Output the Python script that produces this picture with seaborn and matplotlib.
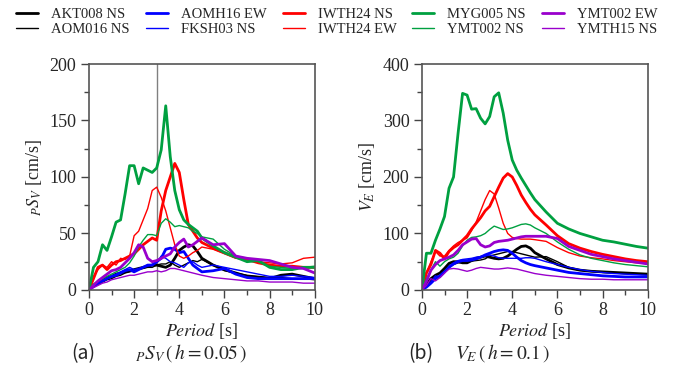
import matplotlib
matplotlib.use("Agg")
import matplotlib.pyplot as plt
import seaborn as sns
import pandas as pd
from matplotlib import font_manager
from matplotlib.ticker import MultipleLocator

# period grid [s]
period = [0.0, 0.2, 0.4, 0.6, 0.8, 1.0, 1.2, 1.4, 1.6, 1.8, 2.0, 2.2, 2.4, 2.6,
          2.8, 3.0, 3.2, 3.4, 3.6, 3.8, 4.0, 4.2, 4.4, 4.6, 4.8, 5.0,
          5.5, 6.0, 6.5, 7.0, 7.5, 8.0, 8.5, 9.0, 9.5, 10.0]

stations = ["AKT008 NS", "AOM016 NS", "AOMH16 EW", "FKSH03 NS", "IWTH24 NS",
            "IWTH24 EW", "MYG005 NS", "YMT002 NS", "YMT002 EW", "YMTH15 NS"]

# pSv (h=0.05) [cm/s]
psv_akt008_ns = [0, 4, 7, 9, 11, 12, 14, 15, 16, 17, 18, 19, 20, 21, 22, 22, 21, 20,
                 22, 28, 35, 38, 40, 39, 34, 28, 22, 18, 15, 12, 11, 10, 13, 14, 12, 10]
psv_aom016_ns = [0, 3, 5, 7, 9, 10, 12, 13, 15, 16, 17, 18, 19, 20, 20, 22, 23, 23,
                 25, 22, 20, 22, 24, 26, 25, 27, 22, 17, 15, 13, 12, 11, 11, 10, 10, 9]
psv_aomh16_ew = [0, 3, 6, 8, 10, 12, 13, 15, 17, 18, 16, 18, 20, 22, 22, 25, 28, 36,
                 37, 36, 33, 34, 28, 22, 19, 16, 17, 19, 14, 11, 10, 10, 10, 10, 10, 10]
psv_fksh03_ns = [0, 3, 6, 8, 10, 12, 14, 16, 18, 20, 18, 19, 20, 21, 22, 24, 30, 28,
                 25, 24, 22, 20, 24, 25, 22, 20, 22, 20, 18, 16, 14, 12, 12, 13, 12, 11]
psv_iwth24_ns = [0, 10, 20, 22, 18, 22, 25, 26, 28, 30, 32, 36, 40, 43, 46, 44, 70, 88,
                 100, 112, 104, 80, 58, 52, 46, 42, 37, 33, 29, 27, 24, 22, 21, 21, 20, 20]
psv_iwth24_ew = [0, 12, 18, 22, 20, 25, 22, 28, 27, 30, 48, 52, 62, 72, 88, 91, 82, 70,
                 55, 40, 30, 28, 30, 33, 35, 38, 36, 32, 28, 27, 25, 24, 23, 24, 28, 29]
psv_myg005_ns = [0, 20, 25, 40, 35, 47, 60, 62, 85, 110, 110, 94, 108, 106, 104, 108, 124, 163,
                 118, 88, 71, 62, 58, 55, 52, 46, 39, 33, 29, 25, 26, 20, 18, 18, 20, 20]
psv_ymt002_ns = [0, 5, 8, 10, 12, 14, 16, 18, 20, 24, 30, 38, 44, 49, 49, 48, 59, 63,
                 60, 56, 57, 56, 55, 52, 50, 47, 45, 36, 30, 28, 25, 21, 20, 19, 20, 21]
psv_ymt002_ew = [0, 4, 8, 11, 14, 17, 18, 20, 24, 28, 33, 40, 38, 28, 25, 26, 28, 30,
                 32, 38, 42, 45, 38, 40, 43, 46, 40, 41, 30, 28, 27, 26, 23, 20, 19, 15]
psv_ymth15_ns = [0, 2, 4, 6, 7, 9, 10, 11, 12, 13, 13, 14, 15, 16, 16, 17, 16, 17,
                 19, 19, 18, 17, 16, 15, 14, 13, 11, 10, 9, 8, 8, 7, 7, 7, 6, 6]

# VE (h=0.1) [cm/s]
ve_akt008_ns = [0, 10, 20, 26, 30, 38, 47, 50, 50, 48, 48, 52, 56, 58, 60, 58, 56, 55,
                56, 60, 66, 72, 77, 78, 74, 66, 55, 45, 39, 35, 33, 32, 31, 30, 29, 28]
ve_aom016_ns = [0, 8, 15, 20, 25, 32, 40, 45, 48, 49, 50, 51, 52, 53, 55, 60, 62, 64,
                66, 68, 68, 66, 64, 62, 60, 58, 59, 50, 40, 35, 33, 31, 30, 29, 28, 28]
ve_aomh16_ew = [0, 5, 12, 20, 25, 32, 40, 46, 50, 52, 52, 53, 55, 58, 62, 65, 68, 70,
                71, 70, 65, 58, 52, 48, 45, 43, 39, 35, 31, 29, 27, 25, 24, 23, 23, 23]
ve_fksh03_ns = [0, 6, 14, 25, 22, 30, 42, 48, 52, 54, 55, 56, 58, 59, 60, 62, 60, 57,
                56, 56, 56, 56, 56, 57, 57, 56, 50, 45, 40, 36, 33, 31, 29, 28, 27, 26]
ve_iwth24_ns = [0, 30, 45, 70, 65, 55, 68, 75, 80, 88, 96, 108, 118, 128, 140, 148, 165, 182,
                198, 206, 200, 185, 168, 155, 143, 133, 115, 96, 82, 74, 68, 63, 59, 55, 52, 50]
ve_iwth24_ew = [0, 30, 50, 68, 60, 60, 70, 78, 84, 88, 92, 105, 120, 140, 160, 176, 170, 145,
                118, 100, 93, 91, 90, 90, 90, 89, 86, 75, 66, 60, 57, 55, 52, 50, 48, 47]
ve_myg005_ns = [0, 65, 65, 88, 108, 130, 180, 200, 277, 348, 345, 320, 321, 304, 294, 307, 342, 349,
                313, 265, 230, 212, 198, 185, 172, 160, 138, 118, 108, 100, 94, 88, 85, 81, 77, 74]
ve_ymt002_ns = [0, 20, 35, 50, 42, 50, 55, 58, 65, 78, 88, 93, 94, 96, 100, 107, 113, 110,
                107, 108, 110, 113, 116, 117, 115, 110, 100, 85, 72, 62, 56, 52, 48, 45, 43, 41]
ve_ymt002_ew = [0, 15, 35, 45, 52, 55, 58, 62, 70, 80, 85, 90, 91, 80, 76, 78, 84, 86,
                87, 88, 90, 92, 94, 95, 95, 95, 95, 91, 77, 70, 63, 59, 55, 52, 49, 46]
ve_ymth15_ns = [0, 8, 20, 16, 22, 30, 37, 38, 37, 35, 33, 35, 38, 40, 39, 38, 37, 37,
                38, 39, 38, 37, 35, 33, 31, 29, 26, 24, 22, 20, 19, 19, 18, 18, 18, 18]

psv_series = [psv_akt008_ns, psv_aom016_ns, psv_aomh16_ew, psv_fksh03_ns, psv_iwth24_ns,
              psv_iwth24_ew, psv_myg005_ns, psv_ymt002_ns, psv_ymt002_ew, psv_ymth15_ns]
ve_series = [ve_akt008_ns, ve_aom016_ns, ve_aomh16_ew, ve_fksh03_ns, ve_iwth24_ns,
             ve_iwth24_ew, ve_myg005_ns, ve_ymt002_ns, ve_ymt002_ew, ve_ymth15_ns]

colors = ["black", "black", "#0000ff", "#0000ff", "#ff0000",
          "#ff0000", "#00a040", "#00a040", "#9900cc", "#9900cc"]
widths = [2.0, 1.0, 2.0, 1.0, 2.0, 1.0, 2.0, 1.0, 2.0, 1.0]

sns.set_theme(style="ticks")
# pick a Times-like serif if one is installed
installed = {f.name for f in font_manager.fontManager.ttflist}
serif = [n for n in ["Liberation Serif", "Times New Roman", "Nimbus Roman", "DejaVu Serif"]
         if n in installed]
plt.rcParams["font.family"] = "serif"
plt.rcParams["font.serif"] = serif
plt.rcParams["mathtext.fontset"] = "stix"

fig = plt.figure(figsize=(6.74, 3.81), dpi=100)
ax1 = fig.add_axes([0.132, 0.239, 0.335, 0.593])
ax2 = fig.add_axes([0.626, 0.239, 0.335, 0.593])

for i, name in enumerate(stations):
    d1 = pd.DataFrame({"period": period, "value": psv_series[i]})
    d2 = pd.DataFrame({"period": period, "value": ve_series[i]})
    sns.lineplot(data=d1, x="period", y="value", ax=ax1, color=colors[i],
                 lw=widths[i], label=name, legend=False)
    sns.lineplot(data=d2, x="period", y="value", ax=ax2, color=colors[i],
                 lw=widths[i], legend=False)

ax1.axvline(3, color="gray", lw=1, zorder=0)

for ax, ymax, ystep in [(ax1, 200, 50), (ax2, 400, 100)]:
    ax.set_xlim(0, 10)
    ax.set_ylim(0, ymax)
    ax.xaxis.set_major_locator(MultipleLocator(2))
    ax.xaxis.set_minor_locator(MultipleLocator(1))
    ax.yaxis.set_major_locator(MultipleLocator(ystep))
    ax.yaxis.set_minor_locator(MultipleLocator(ystep / 2))
    ax.tick_params(which="major", direction="out", length=6, width=1,
                   labelsize=13, pad=3, color="#444444")
    ax.tick_params(which="minor", direction="out", length=3.5, width=1, color="#444444")
    for s in ax.spines.values():
        s.set_color("#555555")
        s.set_linewidth(1.2)
    ax.set_xlabel(r"$\it{Period}$ [s]", fontsize=13, labelpad=1)

ax1.set_ylabel(r"${}_{P}S_{V}$ [cm/s]", fontsize=13, labelpad=4)
ax2.set_ylabel(r"$V_{E}$ [cm/s]", fontsize=13, labelpad=4)

handles, labels = ax1.get_legend_handles_labels()
fig.legend(handles, labels, ncol=5, loc="upper center", bbox_to_anchor=(0.5, 1.0),
           frameon=False, fontsize=10.5, handlelength=1.5, handletextpad=0.9,
           columnspacing=1.1, labelspacing=0.12, borderaxespad=0.35, borderpad=0.2)

# panel captions
cjk = ["Noto Sans CJK JP", "DejaVu Sans"]
fig.text(0.105, 0.058, "(a)", fontsize=14, family=cjk)
fig.text(0.200, 0.058, r"${}_{P}S_{V}\,(\,h=0.05\,)$", fontsize=14)
fig.text(0.606, 0.058, "(b)", fontsize=14, family=cjk)
fig.text(0.675, 0.058, r"$V_{E}\,(\,h=0.1\,)$", fontsize=14)

fig.savefig("out.png", dpi=100)
